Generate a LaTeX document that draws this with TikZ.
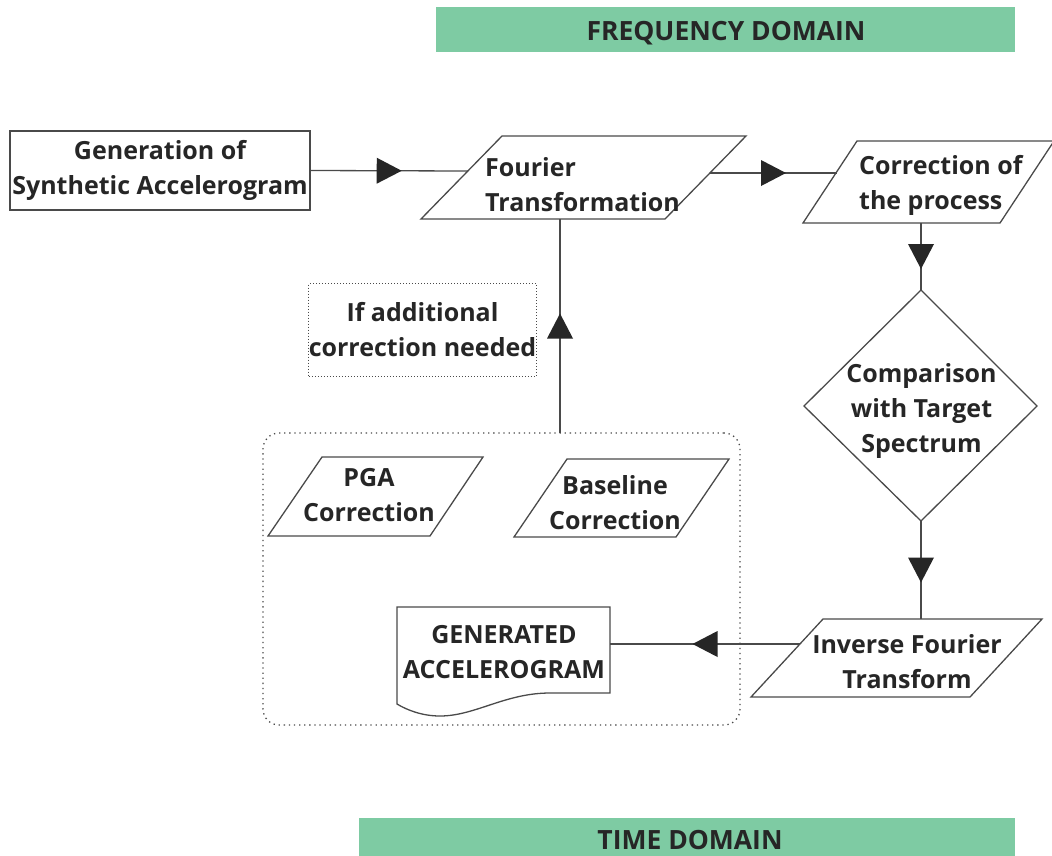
\documentclass[tikz,border=0pt]{standalone}
\usepackage{fontspec}
\setmainfont{Open Sans}
\usetikzlibrary{decorations.markings}
\definecolor{bar}{HTML}{7ECBA3}
\definecolor{ink}{HTML}{262626}
\definecolor{edge}{HTML}{4A4A4A}
\begin{document}
\begin{tikzpicture}[x=1pt,y=-1pt,
  txt/.style={font=\fontsize{25}{35}\selectfont\bfseries, text=ink, align=center, inner sep=0pt},
  bartxt/.style={txt, font=\fontsize{26.5}{35}\selectfont\bfseries},
  shp/.style={draw=edge, line width=1.3pt, line join=miter},
  conn/.style={draw=edge, line width=1.3pt},
  midarrow/.style={postaction=decorate, decoration={markings, mark=at position 0.5 with {\fill[ink] (12.5pt,0pt) -- (-12.5pt,13pt) -- (-12.5pt,-13pt) -- cycle;}}},
  barbox/.style={fill=bar, inner sep=0pt, anchor=north west},
]
\useasboundingbox (0,0) rectangle (1052,855);
\fill[white] (0,0) rectangle (1052,855);

% domain banners
\node[barbox, minimum width=579pt, minimum height=45pt] (freqbar) at (436,7) {};
\node[bartxt] (freq) at (726,33) {FREQUENCY DOMAIN};
\node[barbox, minimum width=656pt, minimum height=45pt] (timebar) at (359,818) {};
\node[bartxt] (time) at (690,840) {TIME DOMAIN};

% generation box
\node[shp, txt, minimum width=300pt, minimum height=79pt] (gen) at (160,170.5) {Generation of\\Synthetic Accelerogram};

% Fourier transformation
\draw[shp] (502,136) -- (746,136) -- (665,219) -- (421,219) -- cycle;
\node[txt, align=left, anchor=west] (four) at (485,185) {Fourier\\Transformation};

% correction of the process
\draw[shp] (857,141) -- (1054,141) -- (1000,223) -- (803,223) -- cycle;
\node[txt, align=left, anchor=west] (corr) at (859,185) {Correction of\\the process};

% comparison diamond
\draw[shp] (921,290) -- (1037,406) -- (921,521) -- (804,406) -- cycle;
\node[txt] (comp) at (921.5,411) {Comparison\\with Target\\Spectrum};

% inverse Fourier transform
\draw[shp] (823,619) -- (1042,619) -- (970,697) -- (751,697) -- cycle;
\node[txt] (ift) at (907,662) {Inverse Fourier\\Transform};

% group box
\node[draw=edge, line width=1.3pt, dash pattern=on 1.3pt off 3.8pt, rounded corners=16pt,
      minimum width=477pt, minimum height=292pt, inner sep=0pt] (group) at (501.5,579) {};

% PGA and baseline corrections
\draw[shp] (322,457) -- (483,457) -- (430,536) -- (268,536) -- cycle;
\node[txt] (pga) at (369,495) {PGA\\Correction};
\draw[shp] (567,459) -- (729,459) -- (676,537) -- (514,537) -- cycle;
\node[txt] (base) at (615,502.5) {Baseline\\Correction};

% generated accelerogram (document)
\draw[shp] (397,607) -- (610,607) -- (610,693) -- (550,693)
  .. controls (505,693) and (475,716) .. (440,716)
  .. controls (422,716) and (407,710) .. (397,704) -- cycle;
\node[txt] (doc) at (504,652) {GENERATED\\ACCELEROGRAM};

% if additional correction needed
\node[txt, draw=edge, line width=1pt, dotted, minimum width=225pt, minimum height=93pt] (ifbox) at (422.5,330) {If additional\\correction needed};

% connector end points
\coordinate (fourL) at (467.8,171);
\coordinate (fourR) at (710,173);
\coordinate (corrL) at (837,173);
\coordinate (corrB) at (921,223);
\coordinate (compT) at (921,290);
\coordinate (compB) at (921,521);
\coordinate (iftT) at (921,619);
\coordinate (iftL) at (800,644);
\coordinate (docR) at (610,644);
\coordinate (groupT) at (560,433);
\coordinate (fourB) at (560,219);

% connectors
\draw[conn, midarrow] (gen.east) -- (fourL);
\draw[conn, midarrow] (fourR) -- (corrL);
\draw[conn, midarrow] (corrB) -- (compT);
\draw[conn, midarrow] (compB) -- (iftT);
\draw[conn, midarrow] (iftL) -- (docR);
\draw[conn, midarrow] (groupT) -- (fourB);
\end{tikzpicture}
\end{document}
